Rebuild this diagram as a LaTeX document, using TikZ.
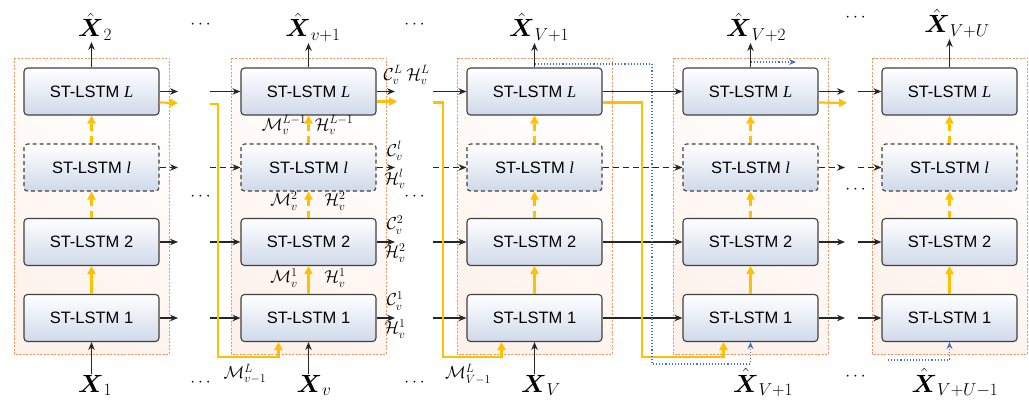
\documentclass[tikz,border=0pt]{standalone}
\usepackage{amsmath,mathtools}
\usepackage{fontspec}
\setmainfont{Liberation Sans}
\newfontfamily\tnr{Liberation Serif}
\usetikzlibrary{arrows.meta}
\definecolor{boxblue}{RGB}{208,217,234}
\definecolor{boxline}{RGB}{64,64,64}
\definecolor{orng}{RGB}{244,150,100}
\definecolor{peach}{RGB}{253,242,235}
\definecolor{ylw}{RGB}{255,192,0}
\definecolor{blu}{RGB}{68,114,196}
\tikzset{
  lstm/.style={draw=boxline, rounded corners=3.5pt, line width=1.1pt, top color=white, bottom color=boxblue,
    minimum width=135pt, minimum height=47pt, inner sep=0pt, font=\fontsize{16.5}{18}\selectfont},
  dlstm/.style={lstm, dash pattern=on 4pt off 3pt},
  region/.style={draw=orng, dash pattern=on 2pt off 1.5pt, line width=0.9pt, top color=white, bottom color=peach, shading angle=-35},
  arr/.style={-{Stealth[length=8pt,width=6.5pt]}, line width=1.2pt, draw=black!85},
  darr/.style={arr, dash pattern=on 6pt off 4pt},
  yarr/.style={-{Triangle[length=8pt,width=8pt]}, line width=2.2pt, draw=ylw},
  ydarr/.style={yarr, dash pattern=on 7pt off 5pt},
  barr/.style={-{Stealth[length=7pt,width=6pt]}, line width=1.1pt, draw=blu, dotted},
  xlab/.style={font=\fontsize{25}{27}\selectfont, inner sep=1pt},
  mlab/.style={font=\fontsize{17}{19}\selectfont, inner sep=0pt},
  dots/.style={font=\fontsize{18}{20}\selectfont, inner sep=0pt},
}
\begin{document}
\begin{tikzpicture}[x=1pt,y=-1pt]
\useasboundingbox (0,0) rectangle (1029,401);
% regions
\foreach \k/\x in {1/91.5,2/308.5,3/534.5,4/750.5,5/949.5}{
  \path[region] (\x-77.5,58) rectangle (\x+77.5,354);
}
% boxes
\foreach \k/\x in {1/91.5,2/308.5,3/534.5,4/750.5,5/949.5}{
  \node[lstm] (c\k L) at (\x,91.5) {ST-LSTM {\tnr\itshape L}};
  \node[dlstm] (c\k l) at (\x,167.5) {ST-LSTM {\tnr\itshape l}};
  \node[lstm] (c\k 2) at (\x,242) {ST-LSTM 2};
  \node[lstm] (c\k 1) at (\x,318) {ST-LSTM 1};
  \draw[yarr] (c\k 1.north) -- (c\k 2.south);
  \draw[ydarr] (c\k 2.north) -- (c\k l.south);
  \draw[ydarr] (c\k l.north) -- (c\k L.south);
}
% top labels
\node[xlab, anchor=base] (o1) at (95,37) {$\hat{\boldsymbol{X}}_{2}$};
\node[xlab, anchor=base] (o2) at (313,37) {$\hat{\boldsymbol{X}}_{v+1}$};
\node[xlab, anchor=base] (o3) at (539,37) {$\hat{\boldsymbol{X}}_{V+1}$};
\node[xlab, anchor=base] (o4) at (756,37) {$\hat{\boldsymbol{X}}_{V+2}$};
\node[xlab, anchor=base] (o5) at (957,33) {$\hat{\boldsymbol{X}}_{V+U}$};
\foreach \k in {1,...,5}{
  \draw[arr] (c\k L.north) -- (c\k L.north |- o\k.south);
}
% bottom labels
\node[xlab, anchor=base] (i1) at (95,392) {$\boldsymbol{X}_{1}$};
\node[xlab, anchor=base] (i2) at (314,392) {$\boldsymbol{X}_{v}$};
\node[xlab, anchor=base] (i3) at (541,392) {$\boldsymbol{X}_{V}$};
\node[xlab, anchor=base] (i4) at (763,392) {$\hat{\boldsymbol{X}}_{V+1}$};
\node[xlab, anchor=base] (i5) at (955,392) {$\hat{\boldsymbol{X}}_{V+U-1}$};
\foreach \k in {1,2,3}{
  \draw[arr] (c\k 1.south |- i\k.north) -- (c\k 1.south);
}
% column 1 -> column 2 stubs
\coordinate (a1L) at (178,91.5); \coordinate (a1l) at (178,167.5);
\coordinate (a12) at (178,242); \coordinate (a11) at (178,318);
\coordinate (ay1) at (178,103);
\draw[arr] (c1L.east) -- (a1L);
\draw[darr] (c1l.east) -- (a1l);
\draw[arr] (c12.east) -- (a12);
\draw[arr] (c11.east) -- (a11);
\draw[yarr] ([yshift=-11pt]c1L.east) -- (ay1);
\coordinate (b2L) at (210,91.5); \coordinate (b2l) at (210,167.5);
\coordinate (b22) at (210,242); \coordinate (b21) at (210,318);
\draw[arr] (b2L) -- (c2L.west);
\draw[darr] (b2l) -- (c2l.west);
\draw[arr] (b22) -- (c22.west);
\draw[arr] (b21) -- (c21.west);
\coordinate (by2) at (210,104); \coordinate (bv2) at (218,357);
\draw[yarr] (by2) -| (bv2) -| ([xshift=-30pt]c21.south);
% column 2 outputs
\coordinate (a2L) at (395,91.5); \coordinate (a2l) at (395,167.5);
\coordinate (a22) at (395,242); \coordinate (a21) at (395,318);
\coordinate (ay2) at (397,101.5);
\draw[arr] (c2L.east) -- (a2L);
\draw[darr] (c2l.east) -- (a2l);
\draw[arr] (c22.east) -- (a22);
\draw[arr] (c21.east) -- (a21);
\draw[yarr] ([yshift=-10pt]c2L.east) -- (ay2);
% column 3 inputs
\coordinate (b3L) at (433,91.5); \coordinate (b3l) at (433,167.5);
\coordinate (b32) at (433,242); \coordinate (b31) at (433,318);
\draw[arr] (b3L) -- (c3L.west);
\draw[darr] (b3l) -- (c3l.west);
\draw[arr] (b32) -- (c32.west);
\draw[arr] (b31) -- (c31.west);
\coordinate (by3) at (433,102.5); \coordinate (bv3) at (443,357);
\draw[yarr] (by3) -| (bv3) -| ([xshift=-33pt]c31.south);
% column 3 -> column 4
\draw[arr] (c3L.east) -- (c4L.west);
\draw[darr] (c3l.east) -- (c4l.west);
\draw[arr] (c32.east) -- (c42.west);
\draw[arr] (c31.east) -- (c41.west);
\coordinate (bv4) at (642,357);
\draw[yarr] ([yshift=-11pt]c3L.east) -| (bv4) -| ([xshift=-27pt]c41.south);
\coordinate (bs3) at (534.5,64); \coordinate (bb4) at (652,364);
\draw[barr] (bs3) -| (bb4) -| (c41.south);
\coordinate (bs4) at (750.5,62); \coordinate (be4) at (796,62);
\draw[barr] (bs4) -- (be4);
% column 4 outputs
\coordinate (a4L) at (845,91.5); \coordinate (a4l) at (845,167.5);
\coordinate (a42) at (845,242); \coordinate (a41) at (845,318);
\coordinate (ay4) at (847,103);
\draw[arr] (c4L.east) -- (a4L);
\draw[darr] (c4l.east) -- (a4l);
\draw[arr] (c42.east) -- (a42);
\draw[arr] (c41.east) -- (a41);
\draw[yarr] ([yshift=-11pt]c4L.east) -- (ay4);
% column 5 inputs
\coordinate (b5L) at (858,91.5); \coordinate (b5l) at (858,167.5);
\coordinate (b52) at (858,242); \coordinate (b51) at (858,318);
\draw[arr] (b5L) -- (c5L.west);
\draw[darr] (b5l) -- (c5l.west);
\draw[arr] (b52) -- (c52.west);
\draw[arr] (b51) -- (c51.west);
\coordinate (bs5) at (888,360);
\draw[barr] (bs5) -| (c51.south);
% labels column 2
\node[mlab] (cL) at (393,75) {$\mathcal{C}_v^{L}$};
\node[mlab] (hL) at (418,75) {$\mathcal{H}_v^{L}$};
\node[mlab] (cl) at (395,151) {$\mathcal{C}_v^{l}$};
\node[mlab] (hl) at (395,179) {$\mathcal{H}_v^{l}$};
\node[mlab] (c2) at (395,225) {$\mathcal{C}_v^{2}$};
\node[mlab] (h2) at (395,253) {$\mathcal{H}_v^{2}$};
\node[mlab] (c1) at (395,301) {$\mathcal{C}_v^{1}$};
\node[mlab] (h1) at (395,329) {$\mathcal{H}_v^{1}$};
\node[mlab] (mLm) at (284,125) {$\mathcal{M}_v^{L-1}$};
\node[mlab] (hLm) at (334,125) {$\mathcal{H}_v^{L-1}$};
\node[mlab] (m2) at (284,201) {$\mathcal{M}_v^{2}$};
\node[mlab] (hh2) at (335,201) {$\mathcal{H}_v^{2}$};
\node[mlab] (m1) at (284,278) {$\mathcal{M}_v^{1}$};
\node[mlab] (hh1) at (335,278) {$\mathcal{H}_v^{1}$};
\node[mlab] (mv) at (245,374) {$\mathcal{M}_{v-1}^{L}$};
\node[mlab] (mV) at (468,374) {$\mathcal{M}_{V-1}^{L}$};
% dots
\foreach \n/\x/\y in {d1/202/25,d2/202/197,d3/202/383,d4/416/25,d5/416/197,d6/416/383,d7/857/18,d8/857/190,d9/857/377}{
  \node[dots] (\n) at (\x,\y) {$\cdots$};
}
\end{tikzpicture}
\end{document}
